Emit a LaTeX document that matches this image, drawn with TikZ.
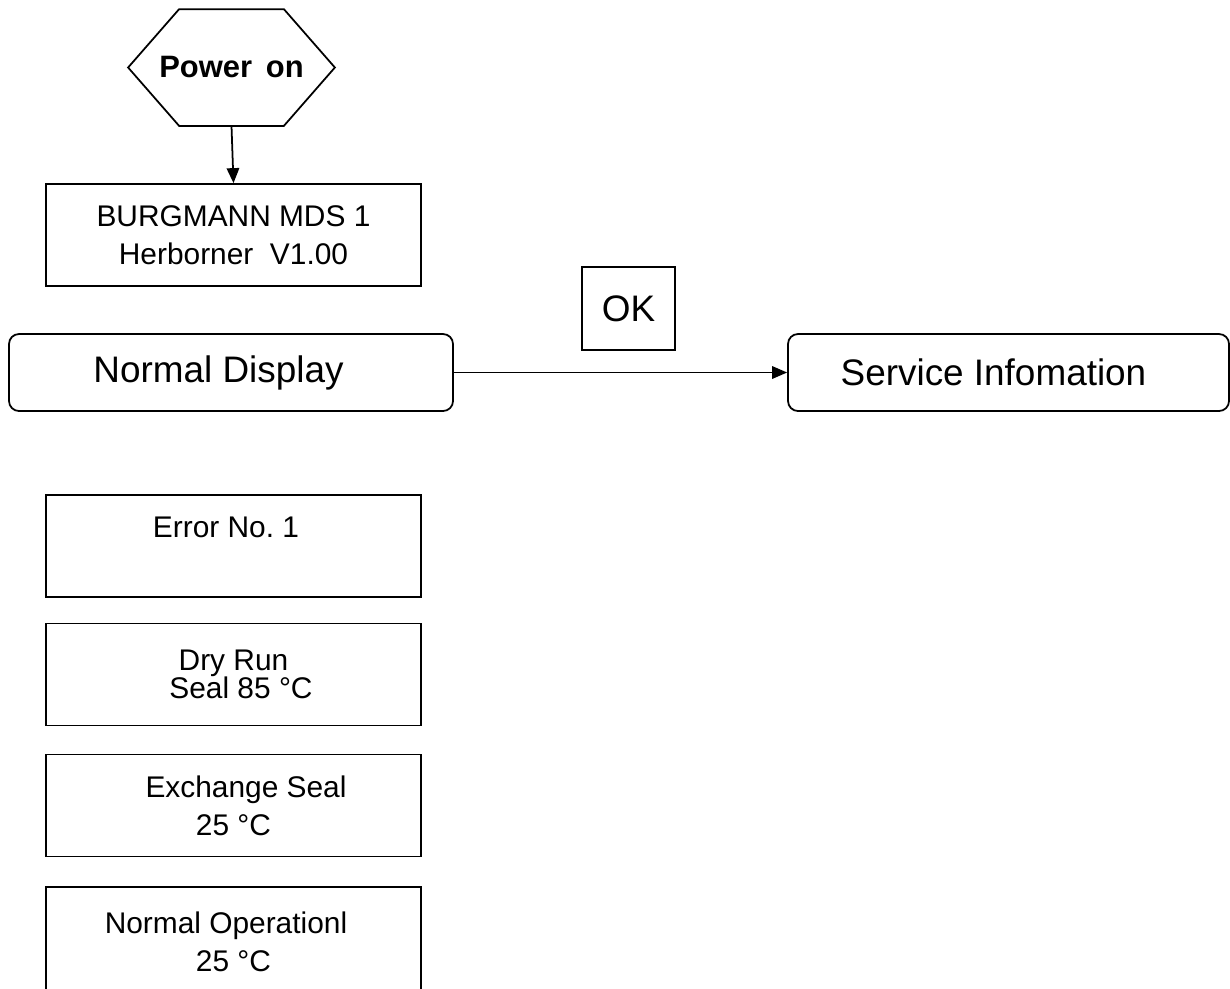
\documentclass[tikz,border=0pt]{standalone}
\usepackage{fontspec}
\setmainfont{Liberation Sans}
\usepackage{tikz}
\usetikzlibrary{arrows.meta, calc}

\begin{document}
\begin{tikzpicture}[line width=1pt,
  screen/.style={draw, minimum width=7.5cm, minimum height=2.04cm, align=center, font=\fontsize{17}{21.6}\selectfont},
  menu/.style={draw, rounded corners=0.2cm, minimum height=1.54cm, font=\fontsize{21}{25}\selectfont},
  flow/.style={-{Triangle[length=0.3cm, width=0.25cm]}}
]
\useasboundingbox (0,0) rectangle (24.6,-19.76);

\node[minimum width=4.1cm, minimum height=2.3cm, font=\fontsize{17.6}{21}\selectfont\bfseries] (power) at (4.63,-1.35) {Power\ \,on};
\draw ($(power.north west)+(1.02,0)$) -- ($(power.north east)-(1.02,0)$) -- (power.east)
  -- ($(power.south east)-(1.02,0)$) -- ($(power.south west)+(1.02,0)$) -- (power.west) -- cycle;

\node[screen] (boot) at (4.67,-4.70) {BURGMANN MDS 1\\ Herborner\ \ V1.00};
\draw[flow] (power.south) -- (boot.north);

\node[menu, minimum width=8.88cm] (normal) at (4.62,-7.45) {Normal Display\rule{0.5cm}{0pt}};
\node[menu, minimum width=8.82cm] (service) at (20.17,-7.45) {Service Infomation\rule{0.6cm}{0pt}};
\node[draw, minimum width=1.86cm, minimum height=1.66cm, font=\fontsize{21}{25}\selectfont] (ok) at (12.57,-6.17) {OK};
\draw[flow] (normal.east) -- (service.west);

% display screens
\node[screen] (err) at (4.67,-10.92) {Error No.\ 1\rule{0.3cm}{0pt}\\ \mbox{}};
\node[screen] (dry) at (4.67,-13.49) {Dry Run\\[-5.7pt] \rule{0.3cm}{0pt}Seal 85 °C};
\node[screen] (exch) at (4.67,-16.11) {\rule{0.5cm}{0pt}Exchange Seal\\ 25 °C};
\node[screen, minimum height=2.2cm] (oper) at (4.67,-18.84) {Normal Operationl\rule{0.3cm}{0pt}\\ 25 °C};
\end{tikzpicture}
\end{document}
